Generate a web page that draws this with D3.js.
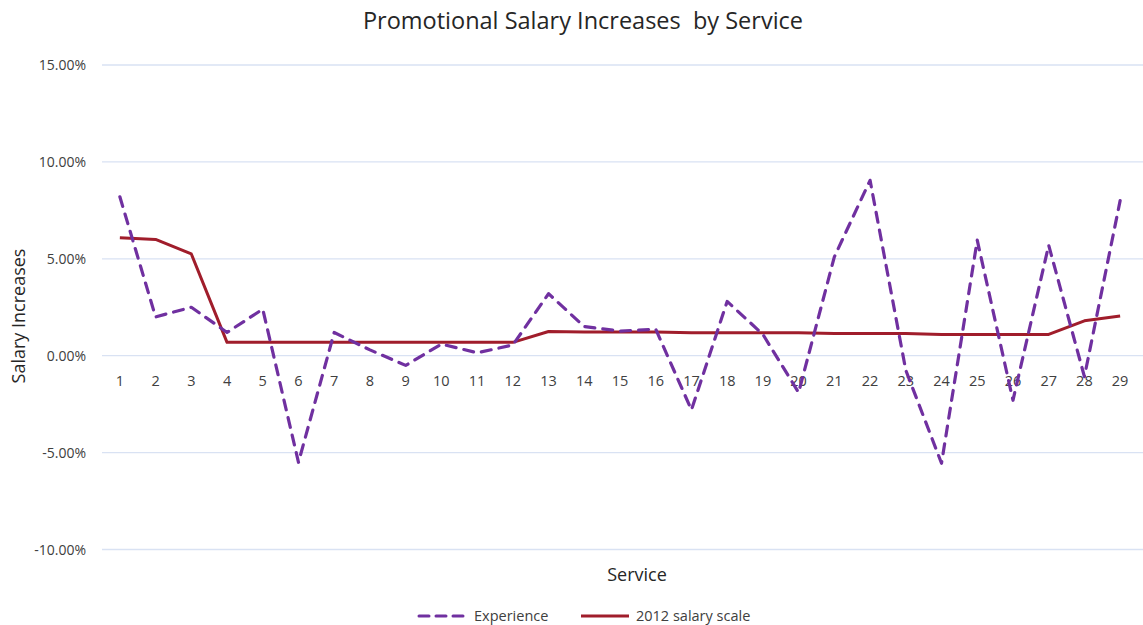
<!doctype html>
<html lang="en">
  <head>
    <meta charset="utf-8">
    <title>Promotional Salary Increases by Service</title>
    <style>
      body { margin: 0; background: #fff; }
      svg { display: block; font-family: "Open Sans", "Liberation Sans", sans-serif; }
    </style>
  </head>
  <body>
    <div class="chart"></div>

    <script src="https://d3js.org/d3.v7.min.js"></script>
    <script>
    // data (percent)
    var services = d3.range(1, 30);
    var experience = [8.2, 2.0, 2.5, 1.2, 2.4, -5.5, 1.2, 0.3, -0.5, 0.6,
                      0.15, 0.55, 3.2, 1.5, 1.27, 1.37, -2.8, 2.8, 1.1, -1.9,
                      5.1, 9.05, -0.75, -5.55, 5.96, -2.3, 5.7, -1.08, 8.0];
    var salaryScale = [6.08, 6.0, 5.25, 0.69, 0.69, 0.69, 0.69, 0.69, 0.69, 0.69,
                       0.69, 0.69, 1.25, 1.22, 1.22, 1.22, 1.18, 1.18, 1.18, 1.18,
                       1.15, 1.15, 1.15, 1.1, 1.1, 1.1, 1.1, 1.8, 2.05];
    var yTicks = [-10, -5, 0, 5, 10, 15];
    var seriesNames = ["Experience", "2012 salary scale"];

    var width = 1143, height = 625;

    var svg = d3.select(".chart")
        .append("svg")
        .attr("width", width)
        .attr("height", height);

    var x = d3.scaleBand().domain(services).range([102, 1138]);
    var y = d3.scaleLinear().domain([-10, 15]).range([549.5, 65]);

    var cx = function(d) { return x(d) + x.bandwidth() / 2; };
    // Excel uses a plain hyphen for negatives
    var pct = function(d) { return d3.format(".2f")(d).replace("\u2212", "-") + "%"; };

    // gridlines
    svg.append("g")
      .selectAll("line")
      .data(yTicks)
      .join("line")
      .attr("x1", 102)
      .attr("x2", width)
      .attr("y1", d => y(d))
      .attr("y2", d => y(d))
      .attr("stroke", "#d9e2f3")
      .attr("stroke-width", 1.3);

    // y tick labels
    svg.append("g")
      .selectAll("text")
      .data(yTicks)
      .join("text")
      .attr("x", 86)
      .attr("y", d => y(d) + 5)
      .attr("text-anchor", "end")
      .attr("font-size", 14)
      .attr("fill", "#404040")
      .text(pct);

    // x tick labels, sitting just under the zero line
    svg.append("g")
      .selectAll("text")
      .data(services)
      .join("text")
      .attr("x", d => cx(d))
      .attr("y", y(0) + 30)
      .attr("text-anchor", "middle")
      .attr("font-size", 14.5)
      .attr("fill", "#404040")
      .text(d => d);

    var line = d3.line()
      .x((d, i) => cx(services[i]))
      .y(d => y(d));

    svg.append("path")
      .datum(salaryScale)
      .attr("d", line)
      .attr("fill", "none")
      .attr("stroke", "#a01d2b")
      .attr("stroke-width", 3)
      .attr("stroke-linejoin", "round");

    svg.append("path")
      .datum(experience)
      .attr("d", line)
      .attr("fill", "none")
      .attr("stroke", "#7030a0")
      .attr("stroke-width", 3.2)
      .attr("stroke-dasharray", "10 8")
      .attr("stroke-linecap", "round")
      .attr("stroke-linejoin", "round");

    // titles
    svg.append("text")
      .attr("x", 583)
      .attr("y", 29)
      .attr("text-anchor", "middle")
      .attr("font-size", 23.5)
      .attr("fill", "#262626")
      .style("white-space", "pre")
      .text("Promotional Salary Increases  by Service");

    svg.append("text")
      .attr("transform", "translate(25,316) rotate(-90)")
      .attr("text-anchor", "middle")
      .attr("font-size", 18)
      .attr("fill", "#262626")
      .text("Salary Increases");

    svg.append("text")
      .attr("x", 637)
      .attr("y", 581)
      .attr("text-anchor", "middle")
      .attr("font-size", 18)
      .attr("fill", "#262626")
      .text("Service");

    // legend
    var legend = svg.append("g").attr("transform", "translate(0,616)");
    var legendX = [417, 579];

    legend.selectAll("line")
      .data(seriesNames)
      .join("line")
      .attr("x1", (d, i) => legendX[i] + 2)
      .attr("x2", (d, i) => legendX[i] + 50)
      .attr("stroke", (d, i) => i === 0 ? "#7030a0" : "#a01d2b")
      .attr("stroke-width", 3)
      .attr("stroke-linecap", (d, i) => i === 0 ? "round" : "butt")
      .attr("stroke-dasharray", (d, i) => i === 0 ? "10 7" : null);

    legend.selectAll("text")
      .data(seriesNames)
      .join("text")
      .attr("x", (d, i) => legendX[i] + 57)
      .attr("y", 5)
      .attr("font-size", 14.5)
      .attr("fill", "#404040")
      .text(d => d);
    </script>
  </body>
</html>
